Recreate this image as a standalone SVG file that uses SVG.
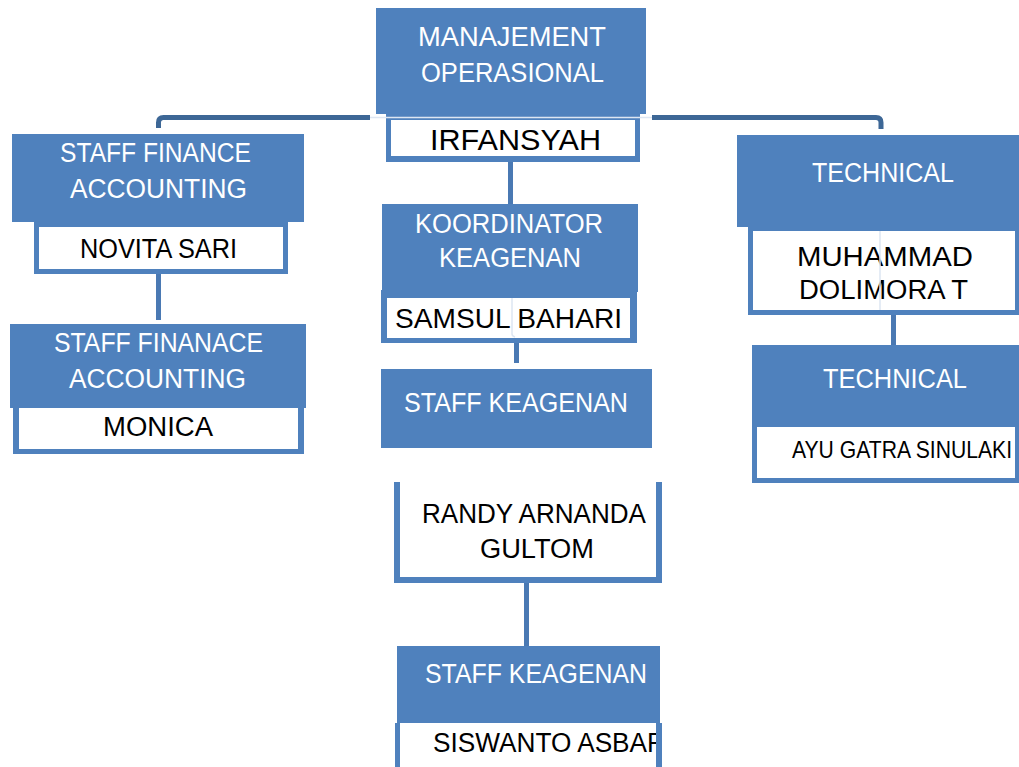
<svg xmlns="http://www.w3.org/2000/svg" width="1019" height="767" viewBox="0 0 1019 767">
<defs>
<style>
.box{fill:#4F81BD}
.wh{fill:#FFFFFF}
.t{font-family:"Liberation Sans",Arial,sans-serif;font-size:27px;fill:#FFFFFF}
.n{font-family:"Liberation Sans",Arial,sans-serif;font-size:27px;fill:#000000}
.top{fill:none;stroke:#3D6796;stroke-width:5}
.v{fill:none;stroke:#4A79B3;stroke-width:5}
.faint{fill:none;stroke:#DDE6F2;stroke-width:1.5}
</style>
<clipPath id="clipSis"><rect x="400" y="723" width="256" height="44"/></clipPath>
</defs>
<rect width="1019" height="767" fill="#FFFFFF"/>

<g id="node-manajemen">
<rect class="box" x="376" y="8" width="270" height="106"/>
<text class="t" x="418" y="46" textLength="188" lengthAdjust="spacingAndGlyphs">MANAJEMENT</text>
<text class="t" x="421" y="82" textLength="183" lengthAdjust="spacingAndGlyphs">OPERASIONAL</text>
<rect class="box" x="386" y="114" width="254" height="48"/>
<rect class="wh" x="391" y="120" width="244" height="36"/>
<text class="n" x="430" y="150" style="font-size:30px" textLength="171" lengthAdjust="spacingAndGlyphs">IRFANSYAH</text>
</g>

<g id="node-finance1">
<rect class="box" x="12" y="134" width="292" height="88"/>
<text class="t" x="60" y="162" textLength="191" lengthAdjust="spacingAndGlyphs">STAFF FINANCE</text>
<text class="t" x="70" y="198" textLength="177" lengthAdjust="spacingAndGlyphs">ACCOUNTING</text>
<rect class="box" x="34" y="222" width="254" height="52"/>
<rect class="wh" x="39" y="227" width="244" height="42"/>
<text class="n" x="80" y="258" textLength="157" lengthAdjust="spacingAndGlyphs">NOVITA SARI</text>
</g>

<g id="node-finance2">
<rect class="box" x="10" y="324" width="296" height="84"/>
<text class="t" x="54" y="352" textLength="209" lengthAdjust="spacingAndGlyphs">STAFF FINANACE</text>
<text class="t" x="69" y="388" textLength="177" lengthAdjust="spacingAndGlyphs">ACCOUNTING</text>
<rect class="box" x="13" y="405" width="291" height="49"/>
<rect class="wh" x="19" y="408" width="279" height="41"/>
<text class="n" x="103" y="436" textLength="110" lengthAdjust="spacingAndGlyphs">MONICA</text>
</g>

<g id="node-koordinator">
<rect class="box" x="382" y="204" width="256" height="88"/>
<text class="t" x="415" y="233" textLength="188" lengthAdjust="spacingAndGlyphs">KOORDINATOR</text>
<text class="t" x="439" y="267" textLength="142" lengthAdjust="spacingAndGlyphs">KEAGENAN</text>
<rect class="box" x="381" y="290" width="256" height="53"/>
<rect class="wh" x="387" y="298" width="243" height="40"/>
<text class="n" x="395" y="328" textLength="227" lengthAdjust="spacingAndGlyphs">SAMSUL BAHARI</text>
</g>

<g id="node-staff-keagenan1">
<rect class="box" x="381" y="369" width="271" height="79"/>
<text class="t" x="404" y="412" textLength="224" lengthAdjust="spacingAndGlyphs">STAFF KEAGENAN</text>
</g>

<g id="node-randy">
<rect class="wh" x="400" y="482" width="256" height="95"/>
<rect class="box" x="394" y="482" width="6" height="101"/>
<rect class="box" x="656" y="482" width="6" height="101"/>
<rect class="box" x="394" y="577" width="268" height="6"/>
<text class="n" x="422" y="523" textLength="224" lengthAdjust="spacingAndGlyphs">RANDY ARNANDA</text>
<text class="n" x="480" y="558" textLength="114" lengthAdjust="spacingAndGlyphs">GULTOM</text>
</g>

<g id="node-staff-keagenan2">
<rect class="box" x="397" y="646" width="263" height="77"/>
<text class="t" x="425" y="683" textLength="222" lengthAdjust="spacingAndGlyphs">STAFF KEAGENAN</text>
<rect class="box" x="395" y="723" width="5" height="44"/>
<rect class="box" x="656" y="723" width="6" height="44"/>
<text class="n" x="433" y="752" clip-path="url(#clipSis)" textLength="233" lengthAdjust="spacingAndGlyphs">SISWANTO ASBAR</text>
</g>

<g id="node-technical1">
<rect class="box" x="737" y="135" width="282" height="92"/>
<text class="t" x="812" y="182" textLength="142" lengthAdjust="spacingAndGlyphs">TECHNICAL</text>
<rect class="box" x="748" y="227" width="271" height="88"/>
<rect class="wh" x="753" y="231" width="262" height="79"/>
<text class="n" x="797" y="266" textLength="176" lengthAdjust="spacingAndGlyphs">MUHAMMAD</text>
<text class="n" x="799" y="299" textLength="169" lengthAdjust="spacingAndGlyphs">DOLIMORA T</text>
</g>

<g id="node-technical2">
<rect class="box" x="752" y="345" width="267" height="80"/>
<text class="t" x="823" y="388" textLength="144" lengthAdjust="spacingAndGlyphs">TECHNICAL</text>
<rect class="box" x="752" y="425" width="267" height="58"/>
<rect class="wh" x="757" y="427" width="258" height="51"/>
<text class="n" x="792" y="458" style="font-size:24px" textLength="220" lengthAdjust="spacingAndGlyphs">AYU GATRA SINULAKI</text>
</g>

<g id="connectors">
<path class="faint" d="M370,117.5 H652"/>
<path class="top" d="M158.5,128 V122.5 Q158.5,117.5 163.5,117.5 H370"/>
<path class="top" d="M652,117.5 H876 Q881,117.5 881,122.5 V129"/>
<path class="v" d="M510.5,162 V204"/>
<path class="v" d="M158.5,274 V320"/>
<path class="v" d="M516.5,343 V363"/>
<path class="v" d="M526.5,583 V646"/>
<path class="v" d="M893.5,315 V345"/>
<path class="faint" d="M512,298 V334 Q512,336 515,337"/>
<path class="faint" d="M880,231 V310"/>
</g>
</svg>
